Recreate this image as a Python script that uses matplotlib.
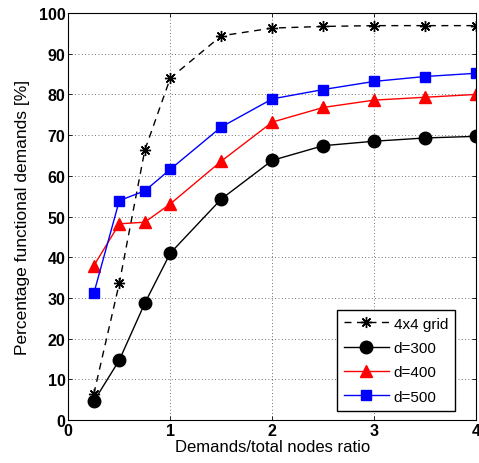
import matplotlib
matplotlib.use("Agg")
import matplotlib.pyplot as plt

x = [0.25, 0.5, 0.75, 1, 1.5, 2, 2.5, 3, 3.5, 4]
grid4x4 = [6.4, 33.6, 66.3, 84.0, 94.4, 96.3, 96.7, 96.9, 96.9, 96.9]
d300 = [4.6, 14.7, 28.7, 41.0, 54.3, 63.8, 67.4, 68.5, 69.3, 69.7]
d400 = [37.9, 48.2, 48.6, 53.1, 63.6, 73.2, 76.8, 78.6, 79.3, 80.0]
d500 = [31.1, 53.9, 56.3, 61.6, 72.0, 78.9, 81.2, 83.2, 84.4, 85.2]

plt.rcParams['font.family'] = ['Liberation Sans', 'DejaVu Sans']

fig = plt.figure(figsize=(4.79, 4.64), dpi=100)
ax = fig.add_axes([0.1426, 0.0927, 0.8518, 0.8771])

ax.plot(x, grid4x4, color='black', linestyle=(0, (5, 4)), linewidth=1.0,
        marker=(8, 2, 0), markersize=8, markeredgewidth=1.0, label='4x4 grid')
ax.plot(x, d300, color='black', linewidth=1.0, marker='o', markersize=9,
        label='d=300')
ax.plot(x, d400, color='red', linewidth=1.0, marker='^', markersize=9,
        label='d=400')
ax.plot(x, d500, color='blue', linewidth=1.0, marker='s', markersize=7,
        label='d=500')

ax.set_xlim(0, 4)
ax.set_ylim(0, 100)
ax.set_xticks([0, 1, 2, 3, 4])
ax.set_yticks(range(0, 101, 10))
for lbl in ax.get_xticklabels() + ax.get_yticklabels():
    lbl.set_fontweight('bold')
    lbl.set_fontsize(11.5)
ax.tick_params(direction='in', length=3, width=0.6, top=True, right=True, pad=2)
ax.grid(True, linestyle=(0, (1, 3)), color='#444444', linewidth=0.6)
for s in ax.spines.values():
    s.set_linewidth(0.8)

ax.set_xlabel('Demands/total nodes ratio', fontsize=12, labelpad=1)
ax.set_ylabel('Percentage functional demands [%]', fontsize=12.5, labelpad=6)

leg = ax.legend(loc='lower right', fontsize=11, fancybox=False, framealpha=1,
                edgecolor='black', borderpad=0.45, handlelength=2.9,
                handletextpad=0.35, labelspacing=0.68, borderaxespad=0,
                bbox_to_anchor=(0.948, 0.023))
leg.get_frame().set_linewidth(1.0)

fig.savefig('out.png', dpi=100)
